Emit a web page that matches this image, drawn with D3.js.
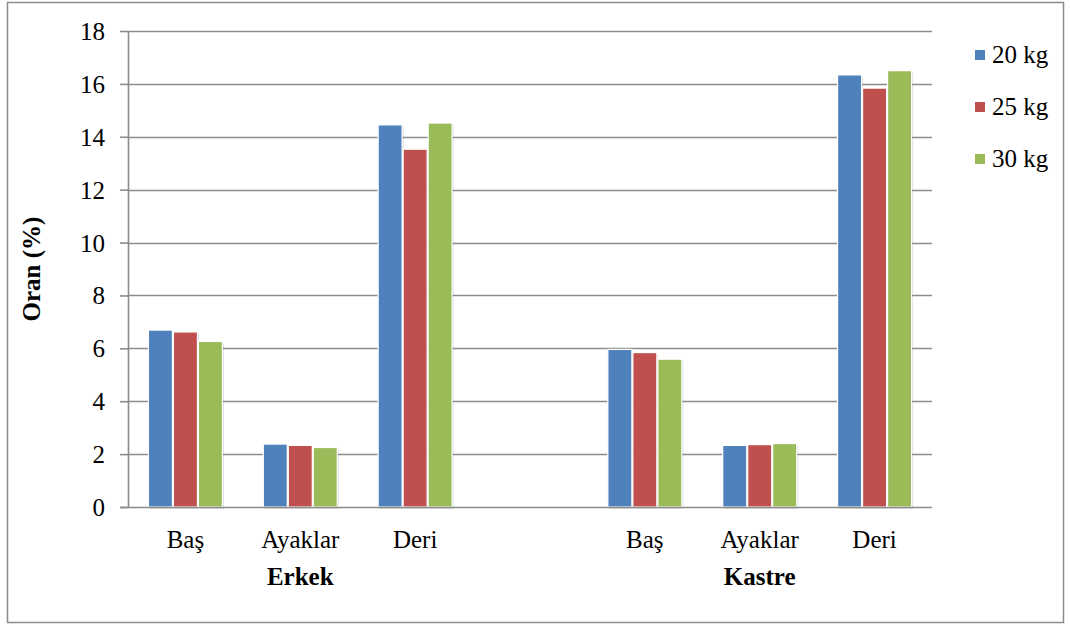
<!DOCTYPE html>
<html>
<head>
<meta charset="utf-8">
<script src="https://cdn.jsdelivr.net/npm/d3@7"></script>
</head>
<body style="margin:0">
<svg id="chart" width="1070" height="625"></svg>
<script>
// Body-part ratios (%) by group and slaughter weight
const groups = ["Erkek", "", "Kastre"];
const categories = ["Baş", "Ayaklar", "Deri", "", "Baş", "Ayaklar", "Deri"];
const categoryGroup = ["Erkek", "Erkek", "Erkek", "", "Kastre", "Kastre", "Kastre"];
const seriesNames = ["20 kg", "25 kg", "30 kg"];
const seriesColors = ["#4f81bd", "#c0504d", "#9bbb59"];
const values20 = [6.69, 2.38, 14.45, null, 5.96, 2.33, 16.34];
const values25 = [6.62, 2.33, 13.53, null, 5.84, 2.36, 15.84];
const values30 = [6.26, 2.25, 14.52, null, 5.59, 2.40, 16.50];
const yTicks = [0, 2, 4, 6, 8, 10, 12, 14, 16, 18];

const series = [values20, values25, values30];
const svg = d3.select("#chart");

// every label uses the same serif face
function serif(sel, bold) {
  return sel.attr("font-family", "Liberation Serif")
    .style("font-family", '"Liberation Serif"')
    .style("font-size", "25px")
    .style("font-weight", bold ? "bold" : "normal")
    .attr("fill", "#000");
}

// outer chart frame
svg.append("rect")
  .attr("x", 7.5).attr("y", 2.5).attr("width", 1056).attr("height", 620)
  .attr("fill", "#fff").attr("stroke", "#8c8c8c").attr("stroke-width", 1.5);

const plot = { left: 128, right: 932, top: 31, bottom: 507 };

const y = d3.scaleLinear().domain([0, 18]).range([plot.bottom, plot.top]);
const x0 = d3.scaleBand().domain(d3.range(categories.length))
  .range([plot.left, plot.right]).paddingInner(0.347).paddingOuter(0.1735);
const x1 = d3.scaleBand().domain(d3.range(seriesNames.length))
  .range([0, x0.bandwidth()]);

// horizontal gridlines
svg.append("g").selectAll("line").data(yTicks.slice(1)).join("line")
  .attr("x1", plot.left).attr("x2", plot.right)
  .attr("y1", d => Math.round(y(d)) + 0.5).attr("y2", d => Math.round(y(d)) + 0.5)
  .attr("stroke", "#8c8c8c").attr("stroke-width", 1.6);

// y axis
const yAxis = d3.axisLeft(y).tickValues(yTicks).tickSize(8).tickPadding(15).tickSizeOuter(0);
const gy = svg.append("g").attr("transform", `translate(${plot.left},0)`).call(yAxis)
  .attr("font-family", "Liberation Serif").attr("font-size", 25);
gy.select(".domain").attr("stroke", "#8c8c8c").attr("stroke-width", 1.6);
gy.selectAll(".tick line").attr("stroke", "#8c8c8c").attr("stroke-width", 1.6);
serif(gy.selectAll(".tick text"), false).attr("dy", "0.34em");

// bar shadows (soft offset copies), then the bars with a thin white edge
const cat = svg.append("g").selectAll("g").data(categories).join("g")
  .attr("transform", (d, i) => `translate(${x0(i)},0)`);
const barData = (d, i) => series.map((s, k) => ({ k, v: s[i] })).filter(e => e.v != null);
cat.selectAll("rect.shadow").data(barData).join("rect")
  .attr("class", "shadow")
  .attr("x", d => x1(d.k) + 2)
  .attr("width", x1.bandwidth() - 1)
  .attr("y", d => y(d.v) + 2)
  .attr("height", d => y(0) - y(d.v))
  .attr("fill", "#000").attr("opacity", 0.12);
cat.selectAll("rect.bar").data(barData).join("rect")
  .attr("class", "bar")
  .attr("x", d => x1(d.k) + 0.5)
  .attr("width", x1.bandwidth() - 1)
  .attr("y", d => y(d.v))
  .attr("height", d => y(0) - y(d.v))
  .attr("fill", d => seriesColors[d.k])
  .attr("stroke", "#fff").attr("stroke-width", 1.2);

// x axis baseline
svg.append("line")
  .attr("x1", plot.left - 8).attr("x2", plot.right)
  .attr("y1", y(0) + 0.5).attr("y2", y(0) + 0.5)
  .attr("stroke", "#8c8c8c").attr("stroke-width", 1.6);

// category labels
serif(svg.append("g").selectAll("text").data(categories).join("text"), false)
  .attr("x", (d, i) => x0(i) + x0.bandwidth() / 2)
  .attr("y", 548)
  .attr("text-anchor", "middle")
  .text(d => d);

// group labels, centred under the middle category of each group
serif(svg.append("g").selectAll("text").data(groups.filter(g => g)).join("text"), true)
  .attr("x", g => {
    const idx = categoryGroup.map((c, i) => c === g ? i : -1).filter(i => i >= 0);
    return x0(idx[1]) + x0.bandwidth() / 2;
  })
  .attr("y", 585)
  .attr("text-anchor", "middle")
  .text(g => g);

// y axis title
serif(svg.append("text"), true)
  .attr("transform", `translate(40,${(plot.top + plot.bottom) / 2}) rotate(-90)`)
  .attr("text-anchor", "middle")
  .text("Oran (%)");

// legend
const lg = svg.append("g").selectAll("g").data(seriesNames).join("g")
  .attr("transform", (d, i) => `translate(975,${55 + i * 52})`);
lg.append("rect").attr("x", 0).attr("y", -5).attr("width", 10).attr("height", 10)
  .attr("fill", (d, i) => seriesColors[i]);
serif(lg.append("text"), false).attr("x", 17).attr("y", 8)
  .text(d => d);
</script>
</body>
</html>
